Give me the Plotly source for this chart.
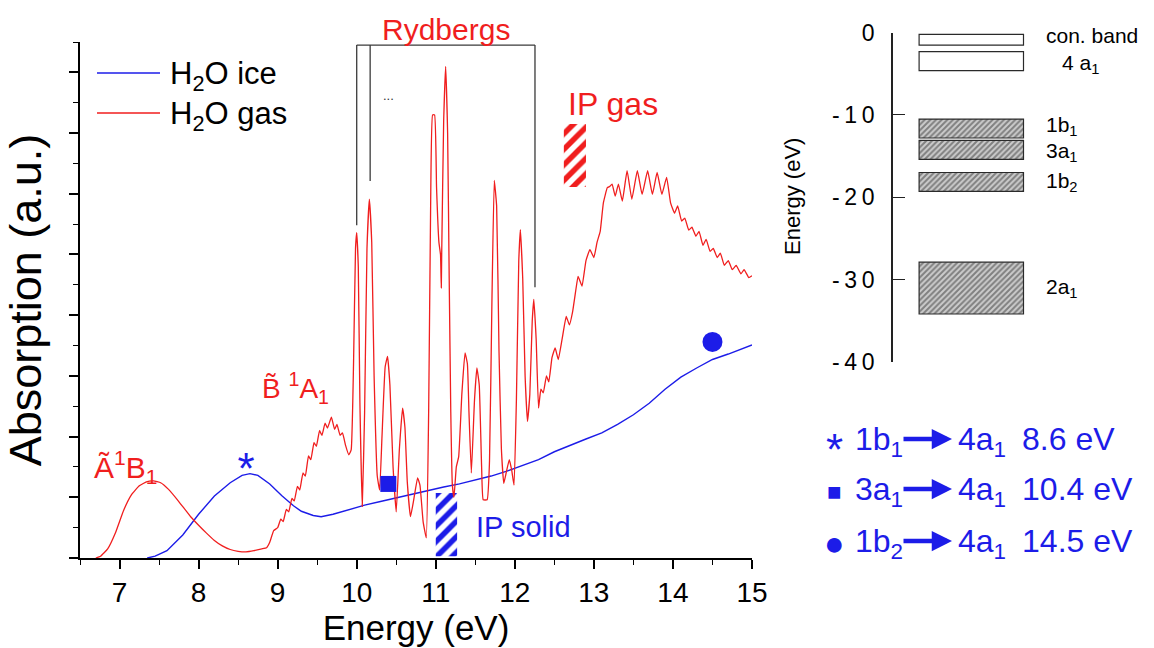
import plotly.graph_objects as go

# ---------------- absorption spectra (arbitrary units) ----------------
gas_ev = [6.70, 6.76, 6.85, 6.95, 7.05, 7.15, 7.25, 7.35, 7.43, 7.52, 7.62, 7.75, 7.90, 8.00,
          8.10, 8.20, 8.30, 8.40, 8.50, 8.60, 8.70, 8.80, 8.86, 8.90, 8.95, 9.00, 9.04, 9.07,
          9.11, 9.14, 9.18, 9.21, 9.25, 9.28, 9.32, 9.35, 9.39, 9.42, 9.46, 9.49, 9.53, 9.56,
          9.60, 9.63, 9.68, 9.72, 9.75, 9.79, 9.82, 9.86, 9.90, 9.93, 9.96, 9.985, 10.00, 10.02,
          10.04, 10.07, 10.10, 10.13, 10.16, 10.19, 10.22, 10.26, 10.29, 10.32, 10.36, 10.39,
          10.42, 10.46, 10.50, 10.54, 10.58, 10.61, 10.64, 10.68, 10.72, 10.77, 10.80, 10.84,
          10.88, 10.91, 10.935, 10.96, 10.985, 11.01, 11.04, 11.06, 11.07, 11.075, 11.10, 11.125,
          11.15, 11.17, 11.19, 11.21, 11.23, 11.26, 11.29, 11.33, 11.37, 11.40, 11.42, 11.45,
          11.49, 11.52, 11.55, 11.58, 11.60, 11.65, 11.68, 11.71, 11.74, 11.77, 11.80, 11.83,
          11.86, 11.89, 11.93, 11.96, 11.99, 12.02, 12.05, 12.07, 12.10, 12.13, 12.16, 12.19,
          12.22, 12.24, 12.27, 12.30, 12.33, 12.36, 12.40, 12.43, 12.47, 12.51, 12.55, 12.60,
          12.65, 12.69, 12.73, 12.77, 12.80, 12.85, 12.90, 12.95, 13.00, 13.04, 13.08, 13.12,
          13.17, 13.20, 13.23, 13.27, 13.31, 13.36, 13.42, 13.48, 13.55, 13.61, 13.68, 13.74,
          13.80, 13.86, 13.92, 13.97, 14.02, 14.06, 14.11, 14.15, 14.20, 14.24, 14.29, 14.33,
          14.38, 14.42, 14.47, 14.51, 14.56, 14.60, 14.65, 14.70, 14.75, 14.80, 14.86, 14.90,
          14.96, 15.00]
gas_abs = [0.00, 0.03, 0.15, 0.42, 0.78, 1.04, 1.19, 1.26, 1.27, 1.24, 1.13, 0.93, 0.68, 0.54,
           0.41, 0.29, 0.20, 0.14, 0.11, 0.10, 0.12, 0.15, 0.17, 0.26, 0.45, 0.50, 0.64, 0.60,
           0.80, 0.76, 0.98, 0.94, 1.18, 1.12, 1.40, 1.35, 1.68, 1.62, 1.90, 1.84, 2.10, 2.02,
           2.22, 2.14, 2.32, 2.12, 2.20, 2.02, 2.06, 1.85, 1.70, 1.78, 3.20, 5.10, 5.36, 4.80,
           2.60, 0.85, 2.40, 5.10, 5.91, 5.20, 3.00, 1.35, 1.12, 2.00, 3.15, 3.32,
           2.85, 1.50, 0.76, 1.80, 2.47, 2.15, 1.25, 0.68, 0.95, 1.32, 1.20, 0.60,
           0.33, 2.40, 5.80, 7.30, 7.30, 6.10, 5.20, 5.00, 4.45, 5.00, 7.20, 8.10,
           7.00, 4.60, 2.40, 1.20, 1.00, 1.50, 1.67, 2.70, 3.38, 3.20, 2.40, 1.40,
           2.60, 3.13, 2.85, 1.50, 0.96, 0.96, 1.60, 4.20, 6.22, 5.80, 3.40, 1.80,
           1.23, 1.40, 1.62, 1.45, 1.20, 2.60, 4.90, 5.41, 4.60, 3.00, 2.25, 2.70,
           3.90, 4.26, 3.60, 2.47, 2.78, 2.72, 3.00, 2.90, 3.30, 3.46, 3.27, 3.62,
           3.98, 3.84, 4.05, 4.40, 4.64, 4.48, 4.90, 5.08, 4.95, 5.20, 5.38, 5.85,
           6.10, 6.12, 6.16, 5.96, 6.16, 5.88, 6.38, 5.91, 6.38, 5.99, 6.38, 5.99,
           6.35, 5.99, 6.27, 5.85, 5.68, 5.80, 5.55, 5.60, 5.40, 5.45, 5.30, 5.38,
           5.15, 5.25, 5.05, 5.10, 4.95, 5.02, 4.82, 4.90, 4.75, 4.82, 4.68, 4.75,
           4.62, 4.65]

ice_ev = [7.35, 7.45, 7.60, 7.80, 8.00, 8.20, 8.40, 8.55, 8.65, 8.75, 8.90, 9.05, 9.20, 9.30,
          9.45, 9.55, 9.70, 9.90, 10.10, 10.30, 10.50, 10.70, 10.90, 11.10, 11.30, 11.50,
          11.70, 11.90, 12.10, 12.30, 12.50, 12.70, 12.90, 13.10, 13.30, 13.50, 13.70, 13.90,
          14.10, 14.30, 14.50, 14.70, 14.90, 15.00]
ice_abs = [0.00, 0.03, 0.12, 0.38, 0.72, 1.02, 1.24, 1.36, 1.39, 1.36, 1.22, 1.03, 0.86, 0.77,
           0.70, 0.68, 0.72, 0.80, 0.87, 0.93, 0.99, 1.05, 1.12, 1.17, 1.22, 1.28,
           1.35, 1.43, 1.52, 1.62, 1.75, 1.86, 1.96, 2.06, 2.20, 2.36, 2.55, 2.78,
           2.98, 3.13, 3.27, 3.36, 3.46, 3.51]

# ionisation thresholds (hatched blocks)
ip_names = ["IP gas", "IP solid"]
ip_start_ev = [12.62, 11.00]
ip_end_ev = [12.90, 11.27]
ip_low = [6.11, 0.03]
ip_high = [7.15, 1.07]

# Rydberg series bracket
ryd_ev = [10.00, 10.17, 12.255]
ryd_bottom = [5.48, 6.21, 4.46]
ryd_top = 8.45

# ice transitions marked on the ice spectrum
trans_ev = [8.6, 10.4, 14.5]
trans_abs = [1.40, 1.22, 3.56]
trans_from = ["1b<sub>1</sub>", "3a<sub>1</sub>", "1b<sub>2</sub>"]
trans_to = "4a<sub>1</sub>"
trans_glyph = ["*", "\u25a0", "\u25cf"]

# water ice band diagram (eV)
band_names = ["con. band", "4 a<sub>1</sub>", "1b<sub>1</sub>", "3a<sub>1</sub>",
              "1b<sub>2</sub>", "2a<sub>1</sub>"]
band_top = [-0.2, -2.3, -10.5, -13.1, -17.0, -27.9]
band_bottom = [-1.5, -4.6, -12.8, -15.4, -19.3, -34.2]
band_hatched = [False, False, True, True, True, True]
band_ticks = [0, -10, -20, -30, -40]

RED = "#f01e1e"
BLUE = "#1c1ce8"
FONT = "Liberation Sans, Arial, sans-serif"
W, H = 1154, 648

fig = go.Figure()

fig.add_trace(go.Scatter(x=ice_ev, y=ice_abs, mode="lines", name="H2O ice", opacity=1,
                         line=dict(color=BLUE, width=1.4), showlegend=False))
fig.add_trace(go.Scatter(x=gas_ev, y=gas_abs, mode="lines", name="H2O gas", opacity=1,
                         line=dict(color=RED, width=1.3, shape="spline", smoothing=0.35),
                         showlegend=False))

# hatched ionisation potential blocks
for i, col in enumerate([RED, BLUE]):
    fig.add_trace(go.Bar(
        x=[(ip_start_ev[i] + ip_end_ev[i]) / 2], width=[ip_end_ev[i] - ip_start_ev[i]],
        base=[ip_low[i]], y=[ip_high[i] - ip_low[i]], name=ip_names[i], showlegend=False,
        opacity=1,
        marker=dict(color="white", opacity=1, line=dict(width=0),
                    pattern=dict(shape="/", fgcolor=col, bgcolor="white", size=11,
                                 solidity=0.5, fgopacity=1))))

# transition markers on the ice curve
fig.add_trace(go.Scatter(x=[trans_ev[0]], y=[trans_abs[0]], mode="text", text=["*"],
                         textposition="middle center", opacity=1,
                         textfont=dict(size=44, color=BLUE, family=FONT), showlegend=False))
fig.add_trace(go.Scatter(x=trans_ev[1:], y=trans_abs[1:], mode="markers", showlegend=False,
                         opacity=1,
                         marker=dict(symbol=["square", "circle"], size=[16, 20], color=BLUE,
                                     opacity=1, line=dict(width=0))))

# band diagram
for hatched in (False, True):
    idx = [i for i in range(len(band_names)) if band_hatched[i] == hatched]
    pattern = dict(shape="/", fgcolor="#333333", bgcolor="#cccccc", size=4, solidity=0.5) \
        if hatched else dict(shape="")
    fig.add_trace(go.Bar(
        x=[0.3] * len(idx), width=[0.4] * len(idx), opacity=1,
        base=[band_bottom[i] for i in idx], y=[band_top[i] - band_bottom[i] for i in idx],
        xaxis="x2", yaxis="y2", showlegend=False,
        marker=dict(color="white", line=dict(color="#2a2a2a", width=1.2), pattern=pattern)))

shapes = []
# Rydberg bracket
shapes.append(dict(type="line", xref="x", yref="y", x0=ryd_ev[0], x1=ryd_ev[-1],
                   y0=ryd_top, y1=ryd_top, line=dict(color="#3a3a3a", width=1.3)))
for e, b in zip(ryd_ev, ryd_bottom):
    shapes.append(dict(type="line", xref="x", yref="y", x0=e, x1=e, y0=ryd_top, y1=b,
                       line=dict(color="#3a3a3a", width=1.3)))
# legend lines
for yy, col in [(73, BLUE), (113, RED)]:
    shapes.append(dict(type="line", xref="paper", yref="paper", x0=97 / W, x1=160 / W,
                       y0=1 - yy / H, y1=1 - yy / H, line=dict(color=col, width=1.4)))

ann = []
def add_text(text, x, y, size, color, xref="x", yref="y", xanchor="center", **kw):
    ann.append(dict(text=text, x=x, y=y, xref=xref, yref=yref, showarrow=False,
                    xanchor=xanchor, yanchor="middle",
                    font=dict(size=size, color=color, family=FONT), **kw))

add_text("H<sub>2</sub>O ice", 168 / W, 1 - 76 / H, 31, "black", "paper", "paper", "left")
add_text("H<sub>2</sub>O gas", 168 / W, 1 - 116 / H, 31, "black", "paper", "paper", "left")
add_text("Rydbergs", (ryd_ev[0] + ryd_ev[-1]) / 2, 1 - 30 / H, 30, RED, "x", "paper")
add_text("...", 10.4, 7.62, 13, "#333333")
add_text("IP gas", 13.24, 7.48, 32, RED)
add_text("IP solid", 11.48, 0.51, 29, BLUE, xanchor="left")
add_text("\u00c3<sup>1</sup>B<sub>1</sub>", 7.08, 1.5, 30, RED)
add_text("B\u0303 <sup>1</sup>A<sub>1</sub>", 9.23, 2.8, 28, RED)

# band diagram labels (the top label sits a little above its band, 4a1 a little below)
label_dy = [0.5, -0.3, 0.3, -0.2, 0, 0]
for name, t, b, dy in zip(band_names, band_top, band_bottom, label_dy):
    x = 0.64 if name.startswith("4") else 0.578
    add_text(name, x, (t + b) / 2 + dy, 21, "black", "x2", "y2", "left")
add_text("Water ice", 0.4, -42.6, 25, BLUE, "x2", "y2")
add_text("Energy (eV)", 792 / W, 1 - 197 / H, 22, "black", "paper", "paper", textangle=-90)

# transitions table
rows_y = [441, 491, 543]
glyph_size = [44, 24, 34]
glyph_dy = [-8, 0, 0]
for i in range(3):
    yp = 1 - rows_y[i] / H
    add_text(trans_glyph[i], 834 / W, yp + glyph_dy[i] / H, glyph_size[i], BLUE,
             "paper", "paper")
    add_text(trans_from[i], 853 / W, yp, 32, BLUE, "paper", "paper", "left")
    ann.append(dict(text="", x=952 / W, y=1 - (rows_y[i] - 2) / H, xref="paper", yref="paper",
                    showarrow=True, ax=-50, ay=0, arrowhead=2, arrowsize=0.9, arrowwidth=4.5,
                    arrowcolor=BLUE, standoff=0))
    add_text(trans_to + "\u2002%.1f eV" % trans_ev[i], 956 / W, yp, 32, BLUE,
             "paper", "paper", "left")

fig.update_layout(
    width=W, height=H, margin=dict(l=0, r=0, t=0, b=0, autoexpand=False),
    paper_bgcolor="white", plot_bgcolor="white", barmode="overlay",
    font=dict(family=FONT, color="black"),
    shapes=shapes, annotations=ann,
    xaxis=dict(domain=[80 / W, 752 / W], range=[6.5, 15], tickvals=list(range(7, 16)),
               ticks="outside", ticklen=9, tickwidth=1.5, tickcolor="black", automargin=False,
               minor=dict(dtick=0.5, ticks="outside", ticklen=5, tickwidth=1.3, tickcolor="black"),
               showline=True, linecolor="black", linewidth=1.5, showgrid=False, zeroline=False,
               tickfont=dict(size=28),
               title=dict(text="Energy (eV)", font=dict(size=35), standoff=8)),
    yaxis=dict(domain=[1 - 558 / H, 1 - 42 / H], range=[0, 8.5], dtick=1, tick0=0,
               showticklabels=False, ticks="outside", ticklen=9, tickwidth=1.5, tickcolor="black",
               minor=dict(dtick=0.5, ticks="outside", ticklen=5, tickwidth=1.3, tickcolor="black"),
               showline=True, linecolor="black", linewidth=1.5, showgrid=False, zeroline=False,
               automargin=False,
               title=dict(text="Absorption (a.u.)", font=dict(size=45), standoff=16)),
    xaxis2=dict(domain=[893 / W, 1.0], range=[0, 1], visible=False, anchor="y2",
                automargin=False),
    yaxis2=dict(domain=[1 - 361.7 / H, 1 - 32.7 / H], range=[-40, 0], anchor="x2",
                tickvals=band_ticks, automargin=False,
                ticktext=["0"] + ["-\u2009" + "\u2009".join(str(abs(t))) for t in band_ticks[1:]],
                ticks="inside", ticklen=12, tickwidth=1.2, tickcolor="#222222",
                showline=True, linecolor="#222222", linewidth=1.8, showgrid=False,
                zeroline=False, tickfont=dict(size=23), ticklabelstandoff=12),
)

fig.write_html("out.html")
